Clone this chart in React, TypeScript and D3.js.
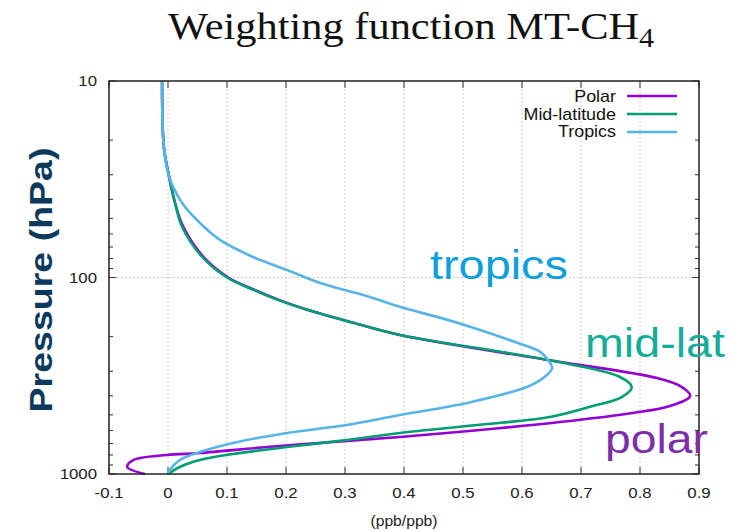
import React, { useLayoutEffect, useRef, useState } from 'react';
import * as d3 from 'd3';

const W = 733;
const H = 531;

// ---------- data ----------
const X_TICKS = [-0.1, 0, 0.1, 0.2, 0.3, 0.4, 0.5, 0.6, 0.7, 0.8, 0.9];
const X_TICK_LABELS = ['-0.1', '0', '0.1', '0.2', '0.3', '0.4', '0.5', '0.6', '0.7', '0.8', '0.9'];
const Y_MAJOR = [10, 100, 1000];
const Y_MAJOR_LABELS = ['10', '100', '1000'];
const Y_MINOR = [20, 30, 40, 50, 60, 70, 80, 90, 200, 300, 400, 500, 600, 700, 800, 900];

const SERIES_NAMES = ['Polar', 'Mid-latitude', 'Tropics'];
const SERIES_COLORS = ['#9400d3', '#009e73', '#56b4e9'];

const POLAR_P = [10, 21.7, 30.8, 41.8, 55.3, 78.6, 100, 116, 130, 146, 170, 196, 263, 325, 361, 401, 451, 489, 544, 597, 648, 687, 729, 782, 800, 849, 921, 1000];
const POLAR_V = [-0.010, -0.007, 0.002, 0.012, 0.026, 0.060, 0.102, 0.148, 0.188, 0.236, 0.314, 0.393, 0.644, 0.829, 0.871, 0.885, 0.851, 0.788, 0.664, 0.529, 0.393, 0.280, 0.168, 0.054, -0.002, -0.059, -0.069, -0.039];

const MID_P = [10, 21.7, 30.8, 41.8, 55.3, 78.6, 100, 116, 130, 146, 170, 196, 263, 321, 361, 406, 451, 513, 563, 618, 671, 729, 791, 849, 921, 1000];
const MID_V = [-0.010, -0.007, 0.002, 0.012, 0.024, 0.058, 0.100, 0.146, 0.186, 0.236, 0.314, 0.393, 0.644, 0.766, 0.786, 0.769, 0.720, 0.647, 0.525, 0.393, 0.303, 0.202, 0.110, 0.054, 0.020, 0.000];

const TROP_P = [10, 21.7, 30.8, 41.8, 51, 64.4, 78.6, 91.6, 106.7, 125.7, 141, 168, 215, 239, 263, 289, 325, 361, 435, 501, 563, 618, 695, 773, 849, 954, 1000];
const TROP_V = [-0.010, -0.007, 0.002, 0.024, 0.049, 0.088, 0.144, 0.202, 0.258, 0.342, 0.393, 0.485, 0.592, 0.631, 0.644, 0.651, 0.636, 0.608, 0.507, 0.393, 0.303, 0.202, 0.110, 0.054, 0.020, 0.003, 0.000];

const ANNOTATIONS = ['tropics', 'mid-lat', 'polar'];
const ANNOTATION_COLORS = ['#0f9fdc', '#14ad98', '#7b30a8'];

// ---------- layout ----------
const PLOT = { left: 109, right: 699, top: 81, bottom: 474 };
const SANS = 'Liberation Sans, Arial, Helvetica, sans-serif';
const SERIF = 'Liberation Serif, Times New Roman, serif';
const SX = 1.12;

function FitText(props: any) {
  const { x, y, width, anchor = 'start', rotate = 0, children, ...rest } = props;
  const ref = useRef<SVGTextElement>(null);
  const [sx, setSx] = useState(1);
  useLayoutEffect(() => {
    if (ref.current) {
      const w = ref.current.getBBox().width;
      if (w > 0) setSx(width / w);
    }
  }, [width]);
  return (
    <g transform={`translate(${x},${y}) rotate(${rotate}) scale(${sx},1)`}>
      <text ref={ref} textAnchor={anchor} {...rest}>{children}</text>
    </g>
  );
}

function SText(props: any) {
  const { x, y, anchor = 'start', children, ...rest } = props;
  return (
    <g transform={`translate(${x},${y}) scale(${SX},1)`}>
      <text textAnchor={anchor} {...rest}>{children}</text>
    </g>
  );
}

export default function App() {
  const x = d3.scaleLinear().domain([-0.1, 0.9]).range([PLOT.left, PLOT.right]);
  const y = d3.scaleLog().domain([10, 1000]).range([PLOT.top, PLOT.bottom]);

  const series = [
    POLAR_P.map((p, i) => ({ p, v: POLAR_V[i] })),
    MID_P.map((p, i) => ({ p, v: MID_V[i] })),
    TROP_P.map((p, i) => ({ p, v: TROP_V[i] })),
  ];
  const line = d3
    .line<{ p: number; v: number }>()
    .x(d => x(d.v))
    .y(d => y(d.p))
    .curve(d3.curveCatmullRom.alpha(0.5));

  const gridColor = '#b4b4b4';
  const axisColor = '#222';
  const tickColor = '#333';

  return (
    <svg width={W} height={H} style={{ position: 'absolute', left: 0, top: 0, background: '#fff' }}>
      <rect x={0} y={0} width={W} height={H} fill="#fff" />
      {/* title */}
      <FitText x={168} y={39} width={487} fontFamily={SERIF} fontSize={38} fill="#111">
        Weighting function MT-CH<tspan fontSize={27} dy={8}>4</tspan>
      </FitText>

      {/* grid */}
      {X_TICKS.slice(1, -1).map((t, i) => (
        <line key={'gx' + i} x1={x(t)} x2={x(t)} y1={PLOT.top} y2={PLOT.bottom} stroke={gridColor} strokeWidth={0.9} strokeDasharray="1.5,2.5" />
      ))}
      <line x1={PLOT.left} x2={PLOT.right} y1={y(100)} y2={y(100)} stroke={gridColor} strokeWidth={0.9} strokeDasharray="1.5,2.5" />

      {/* ticks */}
      {X_TICKS.map((t, i) => (
        <g key={'tx' + i}>
          <line x1={x(t)} x2={x(t)} y1={PLOT.bottom} y2={PLOT.bottom - 7} stroke={tickColor} strokeWidth={1} />
          <line x1={x(t)} x2={x(t)} y1={PLOT.top} y2={PLOT.top + 7} stroke={tickColor} strokeWidth={1} />
        </g>
      ))}
      {Y_MAJOR.map((t, i) => (
        <g key={'ty' + i}>
          <line x1={PLOT.left} x2={PLOT.left + 7} y1={y(t)} y2={y(t)} stroke={tickColor} strokeWidth={1} />
          <line x1={PLOT.right} x2={PLOT.right - 7} y1={y(t)} y2={y(t)} stroke={tickColor} strokeWidth={1} />
        </g>
      ))}
      {Y_MINOR.map((t, i) => (
        <g key={'tm' + i}>
          <line x1={PLOT.left} x2={PLOT.left + 4} y1={y(t)} y2={y(t)} stroke={tickColor} strokeWidth={1} />
          <line x1={PLOT.right} x2={PLOT.right - 4} y1={y(t)} y2={y(t)} stroke={tickColor} strokeWidth={1} />
        </g>
      ))}

      {/* curves */}
      {series.map((s, i) => (
        <path key={'s' + i} d={line(s) || ''} fill="none" stroke={SERIES_COLORS[i]} strokeWidth={2.6} strokeLinejoin="round" />
      ))}

      {/* frame */}
      <rect x={PLOT.left} y={PLOT.top} width={PLOT.right - PLOT.left} height={PLOT.bottom - PLOT.top} fill="none" stroke={axisColor} strokeWidth={1.5} />

      {/* tick labels */}
      {X_TICKS.map((t, i) => (
        <SText key={'lx' + i} x={x(t)} y={498} anchor="middle" fontFamily={SANS} fontSize={15} fill="#222">{X_TICK_LABELS[i]}</SText>
      ))}
      {Y_MAJOR.map((t, i) => (
        <SText key={'ly' + i} x={97} y={y(t) + 5} anchor="end" fontFamily={SANS} fontSize={15} fill="#222">{Y_MAJOR_LABELS[i]}</SText>
      ))}
      <SText x={404} y={526} anchor="middle" fontFamily={SANS} fontSize={14} fill="#222">(ppb/ppb)</SText>

      {/* y label */}
      <FitText x={52} y={280} width={265} anchor="middle" rotate={-90} fontFamily={SANS} fontWeight="bold" fontSize={32} fill="#0b3a5c">Pressure (hPa)</FitText>

      {/* legend */}
      {SERIES_NAMES.map((n, i) => (
        <g key={'lg' + i}>
          <SText x={616} y={102 + i * 17.5} anchor="end" fontFamily={SANS} fontSize={16} fill="#111">{n}</SText>
          <line x1={627} x2={677} y1={96 + i * 18} y2={96 + i * 18} stroke={SERIES_COLORS[i]} strokeWidth={2.6} />
        </g>
      ))}

      {/* annotations */}
      <FitText x={430} y={279} width={138} fontFamily={SANS} fontSize={40} fill={ANNOTATION_COLORS[0]}>{ANNOTATIONS[0]}</FitText>
      <FitText x={585} y={357} width={140} fontFamily={SANS} fontSize={40} fill={ANNOTATION_COLORS[1]}>{ANNOTATIONS[1]}</FitText>
      <FitText x={605} y={453} width={103} fontFamily={SANS} fontSize={41} fill={ANNOTATION_COLORS[2]}>{ANNOTATIONS[2]}</FitText>
    </svg>
  );
}
